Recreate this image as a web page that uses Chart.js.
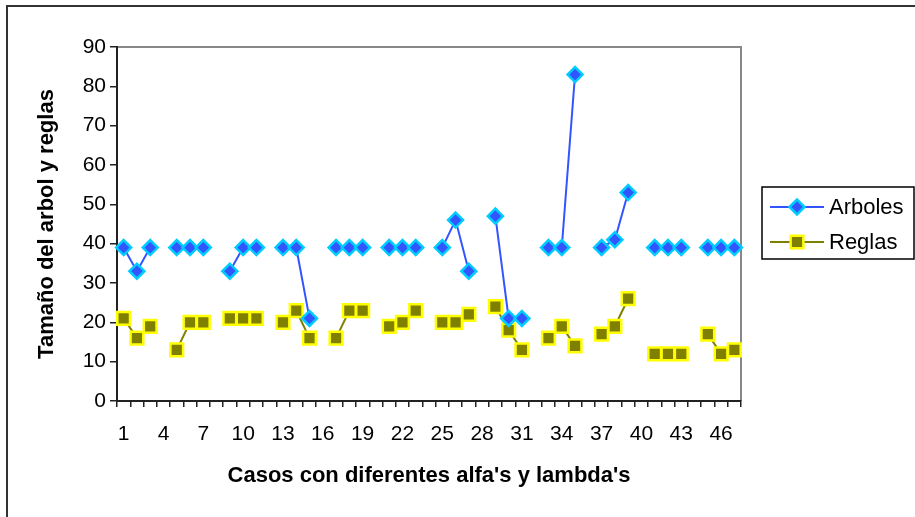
<!DOCTYPE html>
<html>
<head>
<meta charset="utf-8">
<script src="https://cdn.jsdelivr.net/npm/chart.js@4/dist/chart.umd.min.js"></script>
<style>
  html, body { margin: 0; padding: 0; background: #fff; }
  #wrap { width: 915px; height: 517px; position: relative; }
</style>
</head>
<body>
<div id="wrap"><canvas id="chartA" width="915" height="517"></canvas></div>
<script>
// casos 1..47
var casos = [];
for (var i = 1; i <= 47; i++) casos.push(String(i));

var arboles = [39,33,39,null, 39,39,39,null, 33,39,39,null, 39,39,21,null,
               39,39,39,null, 39,39,39,null, 39,46,33,null, 47,21,21,null,
               39,39,83,null, 39,41,53,null, 39,39,39,null, 39,39,39];
var reglas  = [21,16,19,null, 13,20,20,null, 21,21,21,null, 20,23,16,null,
               16,23,23,null, 19,20,23,null, 20,20,22,null, 24,18,13,null,
               16,19,14,null, 17,19,26,null, 12,12,12,null, 17,12,13];

var FONT = "'Liberation Sans', Arial, sans-serif";

var frame_plugin = {
  id: 'frame',
  beforeDraw: function (chart) {
    var ctx = chart.ctx;
    ctx.save();
    ctx.strokeStyle = '#333';
    ctx.lineWidth = 2;
    ctx.beginPath();
    ctx.moveTo(7, 517);
    ctx.lineTo(7, 6);
    ctx.lineTo(915, 6);
    ctx.stroke();
    // plot area border top/right
    var a = chart.chartArea;
    ctx.strokeStyle = '#888';
    ctx.beginPath();
    ctx.moveTo(a.left, a.top);
    ctx.lineTo(a.right, a.top);
    ctx.lineTo(a.right, a.bottom);
    ctx.stroke();
    ctx.restore();
  },
  afterDraw: function (chart) {
    // legend
    var ctx = chart.ctx;
    ctx.save();
    ctx.strokeStyle = '#000';
    ctx.lineWidth = 1.5;
    ctx.strokeRect(762, 187, 152, 72);
    var rows = [
      {y: 207, ds: chart.data.datasets[0]},
      {y: 242, ds: chart.data.datasets[1]}
    ];
    rows.forEach(function (r) {
      ctx.strokeStyle = r.ds.borderColor;
      ctx.lineWidth = 2;
      ctx.beginPath();
      ctx.moveTo(770, r.y);
      ctx.lineTo(824, r.y);
      ctx.stroke();
      ctx.fillStyle = r.ds.pointBackgroundColor;
      ctx.strokeStyle = r.ds.pointBorderColor;
      ctx.lineWidth = r.ds.pointBorderWidth;
      Chart.helpers.drawPoint(ctx, {
        pointStyle: r.ds.pointStyle, rotation: 0,
        radius: r.ds.radius, borderWidth: r.ds.pointBorderWidth
      }, 797, r.y);
      ctx.fillStyle = '#000';
      ctx.font = '22px ' + FONT;
      ctx.textBaseline = 'middle';
      ctx.fillText(r.ds.label, 829, r.y + 1);
    });
    ctx.restore();
  }
};

new Chart("chartA", {
  type: "line",
  data: {
    labels: casos,
    datasets: [{
      label: "Arboles",
      data: arboles,
      borderColor: "#3355ff",
      borderWidth: 2,
      pointStyle: "rectRot",
      radius: 7.5,
      pointBackgroundColor: "#3355ff",
      pointBorderColor: "#00ccff",
      pointBorderWidth: 2.5,
      spanGaps: false,
      tension: 0
    },{
      label: "Reglas",
      data: reglas,
      borderColor: "#808000",
      borderWidth: 2,
      pointStyle: "rect",
      radius: 9,
      pointBackgroundColor: "#808000",
      pointBorderColor: "#ffff00",
      pointBorderWidth: 2.5,
      spanGaps: false,
      tension: 0
    }]
  },
  options: {
    responsive: false,
    animation: false,
    layout: {padding: {left: 8, top: 47, right: 174, bottom: 0}},
    plugins: {
      legend: {display: false},
      tooltip: {enabled: false}
    },
    scales: {
      x: {
        offset: true,
        afterFit: function (s) { s.height = 116; },
        border: {color: '#222', width: 2},
        grid: {drawOnChartArea: false, offset: true, tickLength: 6, color: '#222', lineWidth: 1.5},
        ticks: {
          autoSkip: false, maxRotation: 0, padding: 15, color: '#000',
          font: {family: FONT, size: 21},
          callback: function (v, i) { return i % 3 === 0 ? casos[i] : ''; }
        },
        title: {
          display: true, text: "Casos con diferentes alfa's y lambda's", color: '#000',
          font: {family: FONT, size: 22, weight: 'bold'}, padding: {top: 0, bottom: 28}
        }
      },
      y: {
        min: 0, max: 90,
        afterFit: function (s) { s.width = 109; },
        border: {color: '#222', width: 2},
        grid: {drawOnChartArea: false, tickLength: 7, color: '#222', lineWidth: 1.5},
        ticks: {stepSize: 10, padding: 4, color: '#000', font: {family: FONT, size: 21}},
        title: {
          display: true, text: "Tamaño del arbol y reglas", color: '#000',
          font: {family: FONT, size: 22, weight: 'bold'}, padding: {top: 26, bottom: 0}
        }
      }
    }
  },
  plugins: [frame_plugin]
});
</script>
</body>
</html>
